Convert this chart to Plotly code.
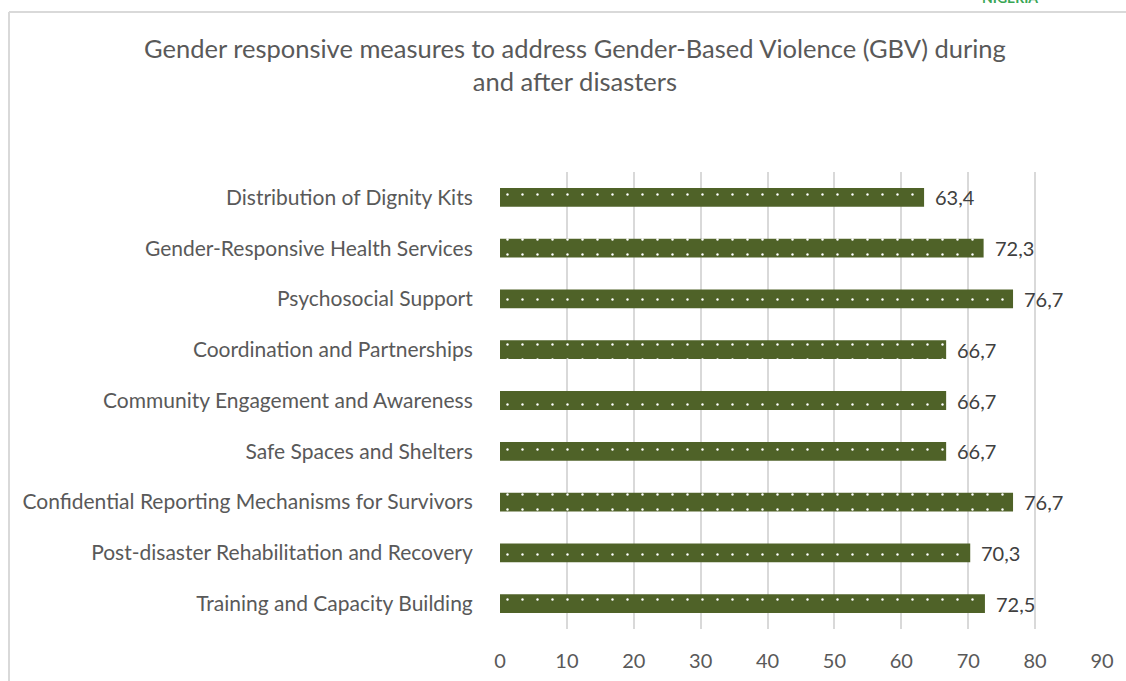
import plotly.graph_objects as go

# Survey results: share of respondents citing each measure (%)
categories = [
    "Distribution of Dignity Kits",
    "Gender-Responsive Health Services",
    "Psychosocial Support",
    "Coordination and Partnerships",
    "Community Engagement and Awareness",
    "Safe Spaces and Shelters",
    "Confidential Reporting Mechanisms for Survivors",
    "Post-disaster Rehabilitation and Recovery",
    "Training and Capacity Building",
]
values = [63.4, 72.3, 76.7, 66.7, 66.7, 66.7, 76.7, 70.3, 72.5]
x_ticks = [0, 10, 20, 30, 40, 50, 60, 70, 80, 90]

title_text = ("Gender responsive measures to address Gender-Based Violence (GBV) during"
              "<br>and after disasters")

W, H = 1126, 681
L, R, T, B = 500, 24, 172, 52
FONT = "Lato"
BAR_COLOR = "#4f6228"
TEXT_GREY = "#595959"
GRID = "#d9d9d9"


def px_x(px):
    return (px - L) / (W - L - R)


def px_y(py):
    return (H - B - py) / (H - T - B)


fig = go.Figure(
    go.Bar(
        x=values,
        y=categories,
        orientation="h",
        width=0.37,
        marker=dict(
            color=BAR_COLOR,
            line=dict(width=0),
            pattern=dict(shape=".", fgcolor="white", bgcolor=BAR_COLOR,
                         size=15, solidity=0.02, fillmode="replace"),
        ),
        hoverinfo="skip",
    )
)

# value labels to the right of each bar
for cat, v in zip(categories, values):
    fig.add_annotation(
        x=v, y=cat, xref="x", yref="y",
        text=f"{v:.1f}".replace(".", ","),
        showarrow=False, xanchor="left", xshift=9,
        font=dict(family=FONT, size=20, color="#404040"),
    )

# chart title
fig.add_annotation(
    x=px_x(575), y=px_y(65), xref="paper", yref="paper",
    text=title_text, showarrow=False, xanchor="center", yanchor="middle",
    font=dict(family=FONT, size=25.5, color=TEXT_GREY), align="center",
)

# header text partly cut off at the top edge
fig.add_annotation(
    x=px_x(1010), y=px_y(-3), xref="paper", yref="paper",
    text="<b>NIGERIA</b>", showarrow=False, xanchor="center", yanchor="middle",
    font=dict(family=FONT, size=14, color="#3aa655"),
)

# chart-area frame (left and top edges)
fig.add_shape(type="line", xref="paper", yref="paper",
              x0=px_x(9), x1=px_x(9), y0=px_y(12), y1=px_y(700),
              line=dict(color=GRID, width=2))
fig.add_shape(type="line", xref="paper", yref="paper",
              x0=px_x(9), x1=px_x(1140), y0=px_y(12), y1=px_y(12),
              line=dict(color=GRID, width=2))

fig.update_layout(
    width=W, height=H,
    margin=dict(l=L, r=R, t=T, b=B),
    paper_bgcolor="white", plot_bgcolor="white",
    showlegend=False,
    separators=",.",
    font=dict(family=FONT, color=TEXT_GREY),
    xaxis=dict(
        range=[0, 90], tickvals=x_ticks, showgrid=True, gridcolor=GRID, gridwidth=2,
        zeroline=False, showline=False, ticks="outside", ticklen=14,
        tickcolor="rgba(0,0,0,0)", tickfont=dict(family=FONT, size=20, color=TEXT_GREY),
        fixedrange=True, automargin=False,
    ),
    yaxis=dict(
        autorange="reversed", showgrid=False, zeroline=False, showline=False,
        ticks="outside", ticklen=22, tickcolor="rgba(0,0,0,0)",
        tickfont=dict(family=FONT, size=21, color=TEXT_GREY), fixedrange=True,
        automargin=False,
    ),
)

fig.write_html("out.html", config={"displayModeBar": False})
